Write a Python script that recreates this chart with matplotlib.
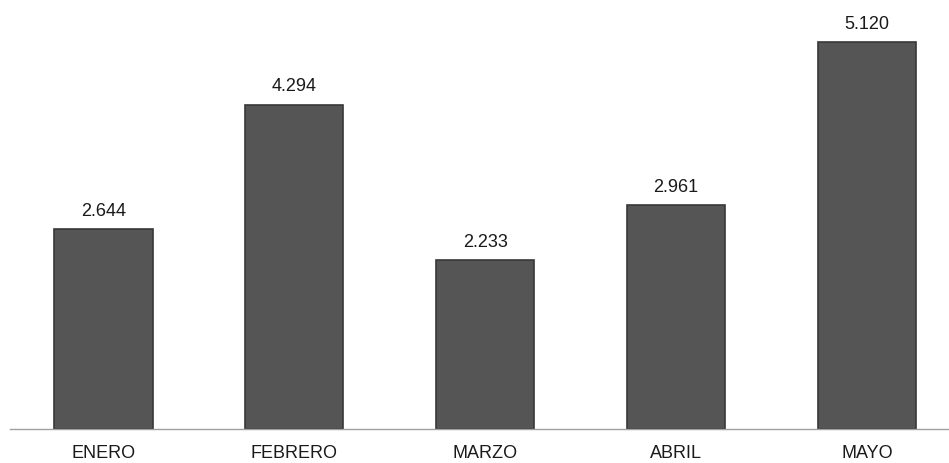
import matplotlib
matplotlib.use("Agg")
import matplotlib.pyplot as plt
from matplotlib import font_manager

categories = ["ENERO", "FEBRERO", "MARZO", "ABRIL", "MAYO"]
values = [2644, 4294, 2233, 2961, 5120]
value_labels = ["2.644", "4.294", "2.233", "2.961", "5.120"]

names = {f.name for f in font_manager.fontManager.ttflist}
fam = ["Liberation Sans Narrow", "Liberation Sans", "DejaVu Sans"]
fam = [f for f in fam if f in names] or ["DejaVu Sans"]
plt.rcParams["font.family"] = fam

fig = plt.figure(figsize=(9.49, 4.64), dpi=100)
ax = fig.add_axes([0.0105, 0.073, 0.9895, 0.927])
x = list(range(len(categories)))
ax.bar(x, values, width=0.515, color="#555555", edgecolor="#383838", linewidth=1.2)
for xi, v, lab in zip(x, values, value_labels):
    ax.text(xi, v + 140, lab, ha="center", va="bottom", fontsize=13, color="#1a1a1a")
ax.set_xlim(-0.49, 4.43)
ax.set_ylim(0, 5690)
ax.set_xticks(x)
ax.set_xticklabels(categories, fontsize=13, color="#1a1a1a")
ax.tick_params(axis="x", length=0, pad=11)
ax.set_yticks([])
for s in ["top", "right", "left"]:
    ax.spines[s].set_visible(False)
ax.spines["bottom"].set_color("#a0a0a0")
ax.spines["bottom"].set_linewidth(1.0)
fig.savefig("out.png", dpi=100, facecolor="white")
